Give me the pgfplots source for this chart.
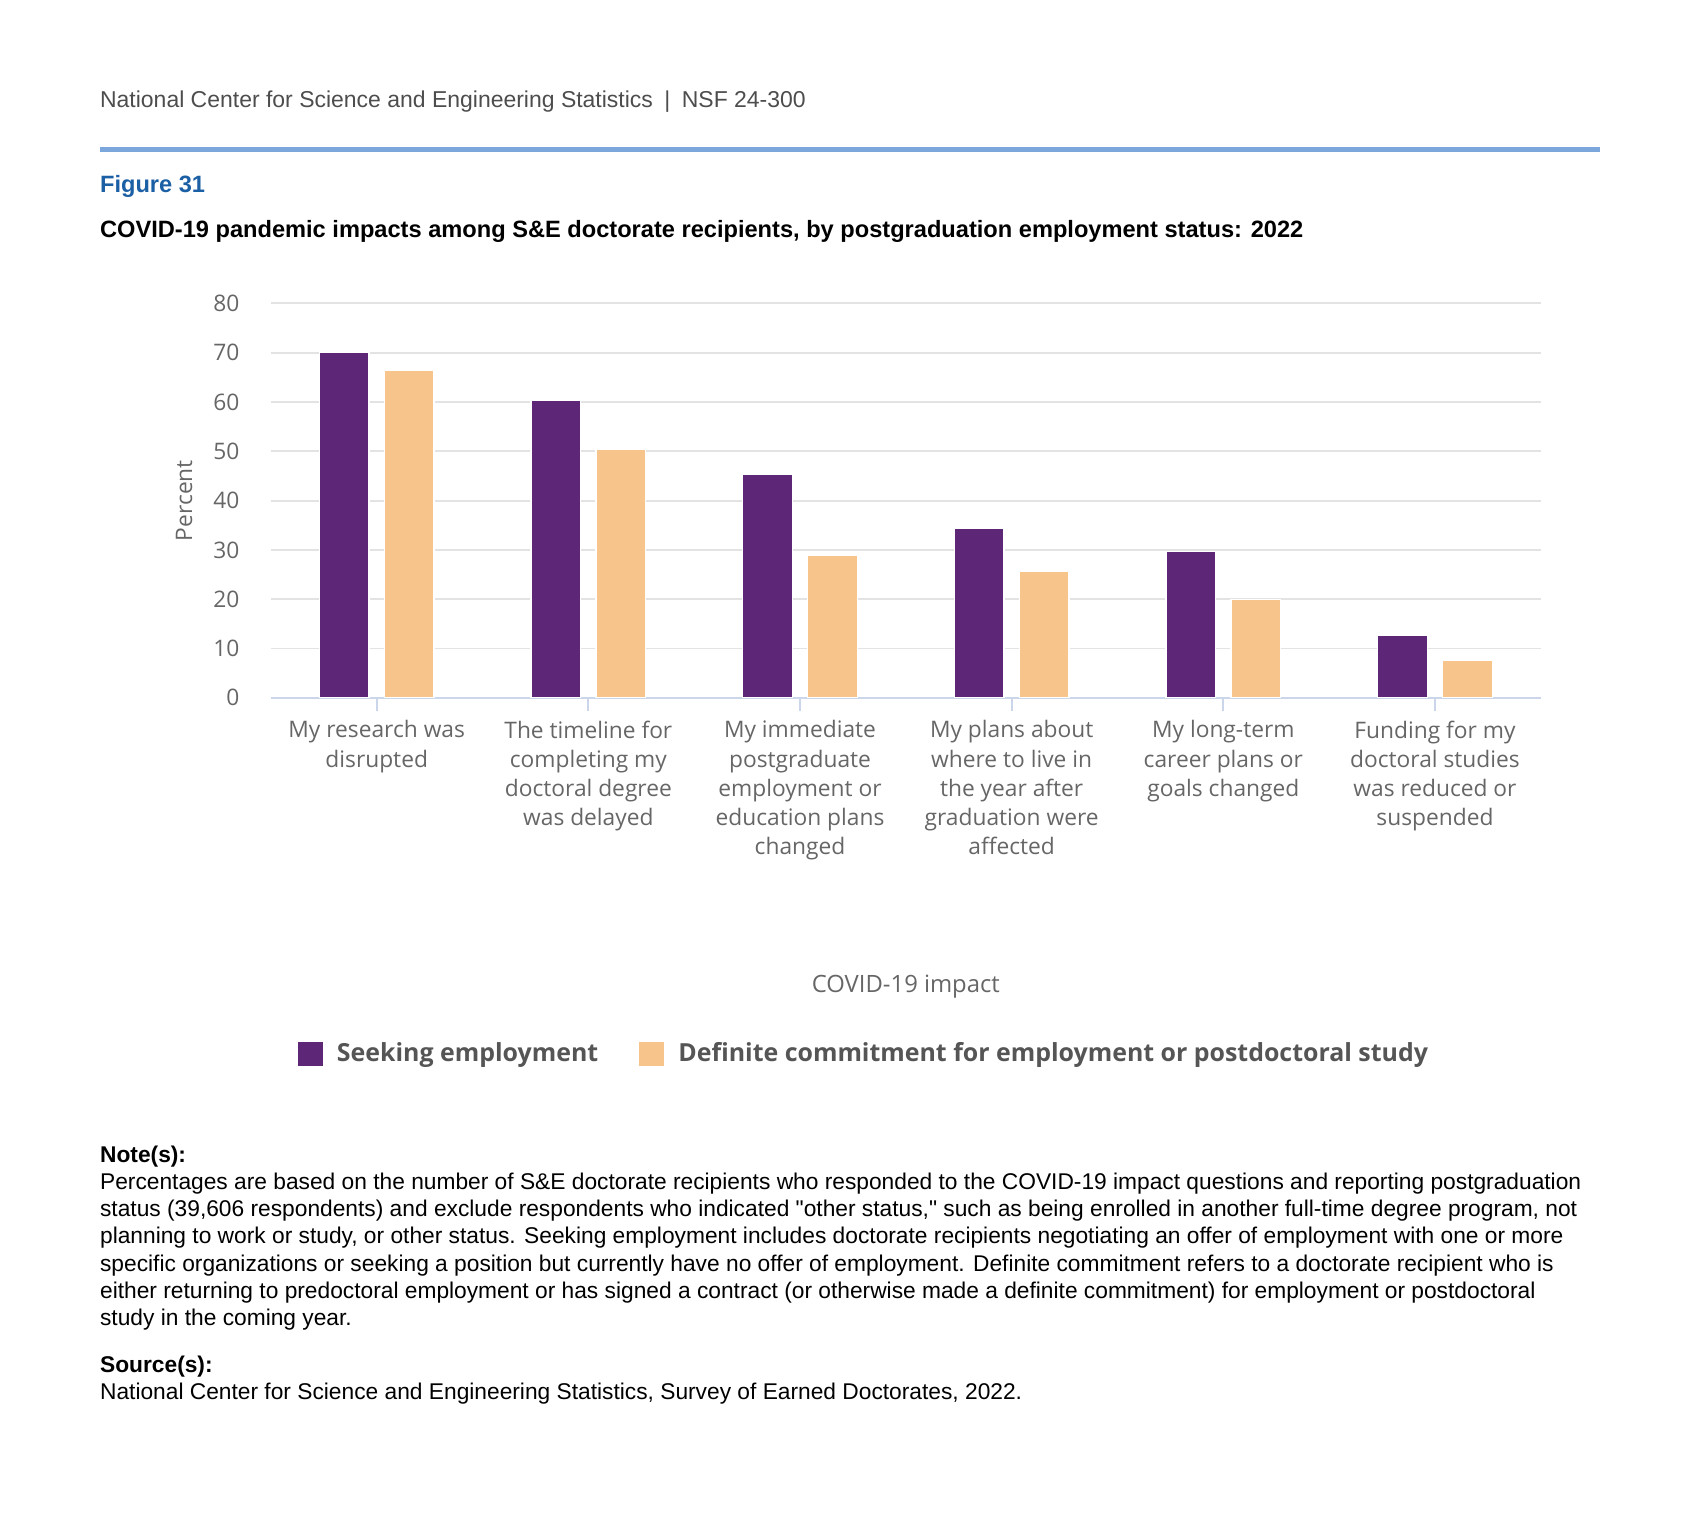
\documentclass[border=0pt]{standalone}
\usepackage{pgfplots}
\pgfplotsset{compat=1.18}
\usepackage{pgfplotstable}
\usepackage{fontspec}
\setmainfont{Liberation Sans}
\newfontfamily\osans{Open Sans}

\definecolor{seek}{HTML}{5D2677}
\definecolor{commit}{HTML}{F7C58C}
\definecolor{gridc}{HTML}{E3E3E3}
\definecolor{axisc}{HTML}{CCD6EB}
\definecolor{labc}{HTML}{666666}
\definecolor{legc}{HTML}{555555}
\definecolor{headc}{HTML}{4D4D4D}
\definecolor{figblue}{HTML}{1B5FA5}
\definecolor{rulec}{HTML}{7BA7DC}

% percent of respondents, by impact
\pgfplotstableread{
x seek commit
0 70.1 66.5
1 60.4 50.3
2 45.3 28.9
3 34.4 25.7
4 29.7 20.0
5 12.6 7.5
}\impacts

\pgfplotsset{sqlegend/.style={legend image code/.code={
    \fill[##1,draw=none] (0pt,-5.75pt) rectangle (11.5pt,5.75pt);}}}

\begin{document}
\begin{tikzpicture}
% page furniture, in reference pixels (origin top left)
\begin{scope}[x=0.5pt,y=-0.5pt]
\useasboundingbox (0,0) rectangle (1568,1398);
\node[anchor=base west, inner sep=0, text=headc, font=\fontsize{10.6}{12}\selectfont]
  at (92,99) {National Center for Science and Engineering Statistics\enspace|\enspace NSF 24-300};
\fill[rulec] (92,136) rectangle (1477,140);
\node[anchor=base west, inner sep=0, text=figblue, font=\bfseries\fontsize{10.9}{13}\selectfont]
  at (92,178) {Figure 31};
\node[anchor=base west, inner sep=0, font=\bfseries\fontsize{10.9}{12}\selectfont]
  at (92,219) {COVID-19 pandemic impacts among S\&E doctorate recipients, by postgraduation employment status: 2022};
\node[rotate=90, text=labc, font=\osans\fontsize{10.5}{12}\selectfont] at (170,462) {Percent};

\begin{scope}[every node/.style={anchor=base west, inner sep=0, font=\fontsize{10.5}{12}\selectfont}]
\node[font=\bfseries\fontsize{10.5}{12}\selectfont] at (92,1073) {Note(s):};
\node at (92,1098) {Percentages are based on the number of S\&E doctorate recipients who responded to the COVID-19 impact questions and reporting postgraduation};
\node at (92,1123) {status (39,606 respondents) and exclude respondents who indicated \textquotedbl other status,\textquotedbl{} such as being enrolled in another full-time degree program, not};
\node at (92,1148) {planning to work or study, or other status. Seeking employment includes doctorate recipients negotiating an offer of employment with one or more};
\node at (92,1173) {specific organizations or seeking a position but currently have no offer of employment. Definite commitment refers to a doctorate recipient who is};
\node at (92,1198) {either returning to predoctoral employment or has signed a contract (or otherwise made a definite commitment) for employment or postdoctoral};
\node at (92,1223) {study in the coming year.};
\node[font=\bfseries\fontsize{10.5}{12}\selectfont] at (92,1267) {Source(s):};
\node at (92,1292) {National Center for Science and Engineering Statistics, Survey of Earned Doctorates, 2022.};
\end{scope}
\end{scope}

\begin{axis}[
    at={(125pt,-322pt)}, anchor=south west,
    scale only axis, width=586pt, height=182pt,
    ybar, bar width=23pt,
    xmin=-0.5, xmax=5.5, ymin=0, ymax=80,
    ytick={0,10,...,80},
    xtick={0,...,5},
    xticklabels={
        {My research was\\disrupted},
        {The timeline for\\completing my\\doctoral degree\\was delayed},
        {My immediate\\postgraduate\\employment or\\education plans\\changed},
        {My plans about\\where to live in\\the year after\\graduation were\\affected},
        {My long-term\\career plans or\\goals changed},
        {Funding for my\\doctoral studies\\was reduced or\\suspended}},
    /pgf/number format/assume math mode=true,
    axis lines*=left,
    x axis line style={axisc, line width=1pt},
    y axis line style={draw=none},
    ymajorgrids, grid style={gridc, line width=0.9pt},
    tick align=outside, major tick length=6pt,
    xtick style={axisc, line width=0.9pt},
    ytick style={draw=none},
    yticklabel style={text=labc, font=\osans\fontsize{10.5}{12}\selectfont, xshift=-5pt},
    xticklabel style={text=labc, align=center, font=\osans\fontsize{10.5}{13.5}\selectfont, yshift=-1pt},
    xlabel={COVID-19 impact},
    xlabel style={at={(axis description cs:0.5,-0.733)}, anchor=center,
        text=labc, font=\osans\fontsize{11}{13}\selectfont},
    legend style={at={(0.468,-0.903)}, anchor=center, draw=none, fill=none,
        legend columns=2, text=legc, font=\osans\bfseries\fontsize{11.5}{14}\selectfont,
        /tikz/every odd column/.append style={column sep=4.5pt},
        /tikz/every even column/.append style={column sep=17pt}},
]
\addplot[fill=seek, draw=white, line width=0.6pt, bar shift=-15pt, sqlegend]
    table[x=x, y=seek] {\impacts};
\addlegendentry{Seeking employment}
\addplot[fill=commit, draw=white, line width=0.6pt, bar shift=15pt, sqlegend]
    table[x=x, y=commit] {\impacts};
\addlegendentry{Definite commitment for employment or postdoctoral study}
\end{axis}
\end{tikzpicture}
\end{document}
